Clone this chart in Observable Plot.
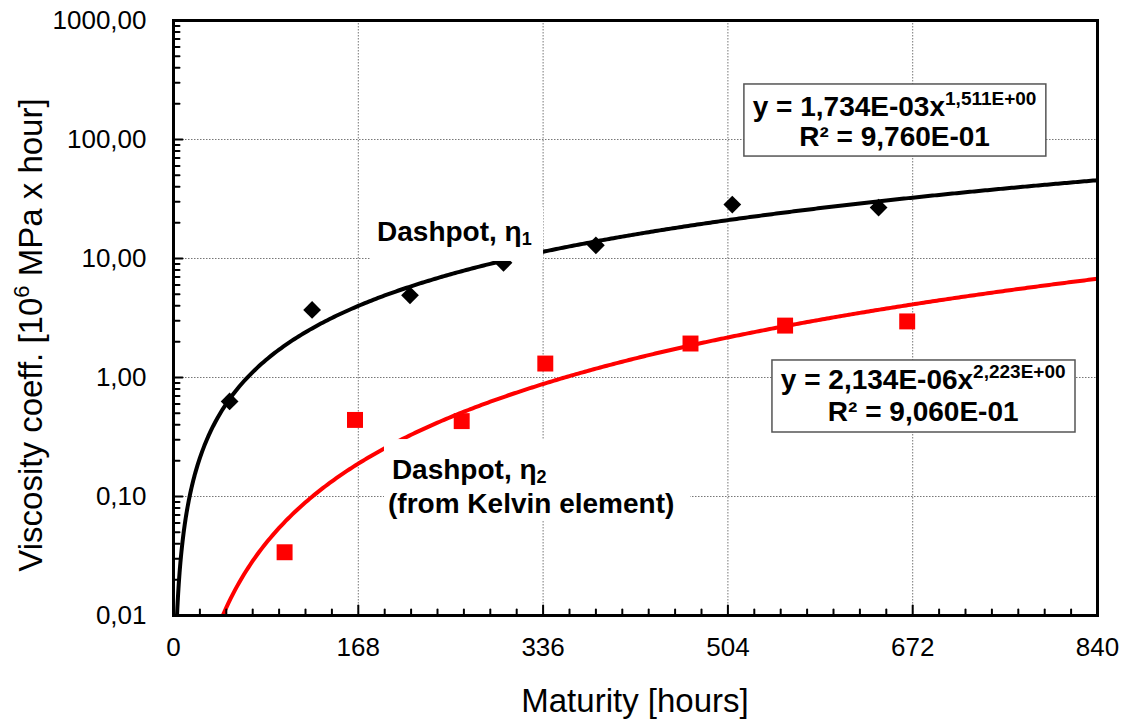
<!DOCTYPE html>
<html><head><meta charset="utf-8">
<script src="https://cdn.jsdelivr.net/npm/d3@7"></script>
<script src="https://cdn.jsdelivr.net/npm/@observablehq/plot@0.6"></script>
<style>
body{margin:0;background:#fff}
svg{font-family:"Liberation Sans",Arial,sans-serif}
</style>
</head><body><div id="chart"></div>
<script>
// Measured points: Dashpot eta1 (black diamonds)
const eta1Hours  = [51, 126, 215, 300, 384, 508, 641];
const eta1Values = [0.63, 3.7, 4.9, 9.2, 12.9, 28.4, 26.8];
// Measured points: Dashpot eta2 (red squares)
const eta2Hours  = [101, 165, 262, 338, 470, 556, 667];
const eta2Values = [0.034, 0.44, 0.43, 1.31, 1.93, 2.73, 2.96];
// Power trendlines y = a * x^b as printed on the chart
const fitA = [1.734e-3, 2.134e-6];
const fitB = [1.511, 2.223];
const fitColors = ["black", "#ff0000"];
// Axis ticks
const xTicks = [0, 168, 336, 504, 672, 840];
const xMinorStep = 24;
const yTicks = [0.01, 0.1, 1, 10, 100, 1000];
// Annotation texts
const eqMain = ["y = 1,734E-03x", "y = 2,134E-06x"];
const eqSup = ["1,511E+00", "2,223E+00"];
const eqR2 = ["R² = 9,760E-01", "R² = 9,060E-01"];
// annotation anchors (data units)
const eqCenterX = [656, 682];
const eqLine1Y = [156, 0.79];
const eqLine2Y = [87, 0.425];
const eqBoxX = [[519, 793.5], [544.5, 820]];
const eqBoxY = [[290, 71.9], [1.39, 0.345]];
const lblBoxX = [[179, 336.4], [191.8, 470]];
const lblBoxY = [[26.8, 9.44], [0.301, 0.0616]];
const lblX = [185.5, 199, 195.5];
const lblY = [13.9, 0.139, 0.0715];

const pts1 = eta1Hours.map((h, i) => ({h, v: eta1Values[i]}));
const pts2 = eta2Hours.map((h, i) => ({h, v: eta2Values[i]}));
const hoursGrid = d3.range(0, 20, 0.25).concat(d3.range(20, 841, 2));
const curves = fitA.map((a, k) => hoursGrid.map(h => ({h, v: a * Math.pow(h, fitB[k]), k})).filter(d => d.v >= 0.005));

const xMinor = d3.range(0, 841, xMinorStep).filter(d => !xTicks.includes(d));
const yMinor = [];
yTicks.slice(0, -1).forEach(d => { for (let m = 2; m <= 9; m++) yMinor.push(d * m); });

const eqBoxes = eqBoxX.map((x, i) => ({x1: x[0], x2: x[1], y1: eqBoxY[i][0], y2: eqBoxY[i][1]}));
const lblBoxes = lblBoxX.map((x, i) => ({x1: x[0], x2: x[1], y1: lblBoxY[i][0], y2: lblBoxY[i][1]}));

// simple line shape for inward tick marks
const tickShape = {draw(context, l) { context.moveTo(0, 0); context.lineTo(0, -l); }};
const xTickData = xMinor.map(h => ({h, len: 6})).concat(xTicks.slice(1, -1).map(h => ({h, len: 10})));
const yTickData = yMinor.map(v => ({v, len: 6})).concat(yTicks.slice(1, -1).map(v => ({v, len: 9})));

const chart = Plot.plot({
  width: 1125, height: 721,
  marginLeft: 173, marginRight: 28, marginTop: 20, marginBottom: 106,
  style: {fontFamily: '"Liberation Sans", Arial, sans-serif', background: "white"},
  x: {type: "linear", domain: [0, 840]},
  y: {type: "log", domain: [0.01, 1000]},
  length: {type: "identity"},
  marks: [
    Plot.gridX({ticks: xTicks.slice(1, -1), stroke: "#777", strokeOpacity: 1, strokeWidth: 1, strokeDasharray: "1.5,1.5"}),
    Plot.gridY({ticks: yTicks.slice(1, -1), stroke: "#777", strokeOpacity: 1, strokeWidth: 1, strokeDasharray: "1.5,1.5"}),
    ...curves.map((c, k) => Plot.line(c, {x: "h", y: "v", stroke: fitColors[k], strokeWidth: 4, clip: true})),
    Plot.dot(pts1, {x: "h", y: "v", symbol: "diamond2", r: 8, fill: "black", stroke: null}),
    Plot.dot(pts2, {x: "h", y: "v", symbol: "square", r: 9, fill: "#ff0000", stroke: null}),
    Plot.rect(lblBoxes, {x1: "x1", x2: "x2", y1: "y1", y2: "y2", fill: "white"}),
    Plot.rect(eqBoxes, {x1: "x1", x2: "x2", y1: "y1", y2: "y2", fill: "white", stroke: "#555", strokeWidth: 1.5}),
    Plot.vector(xTickData, {x: "h", y: () => 0.01, length: "len", rotate: 0, anchor: "start", shape: tickShape, stroke: "black", strokeWidth: 2}),
    Plot.vector(yTickData, {x: () => 0, y: "v", length: "len", rotate: 90, anchor: "start", shape: tickShape, stroke: "black", strokeWidth: 2}),
    Plot.frame({stroke: "black", strokeWidth: 3}),
    Plot.axisX({ticks: xTicks, tickSize: 0, tickPadding: 22, fontSize: 26, tickFormat: d => String(d), label: null}),
    Plot.axisY({ticks: yTicks, tickSize: 0, tickPadding: 27, fontSize: 26, tickFormat: d => d.toFixed(2).replace(".", ","), label: null})
  ]
});
document.getElementById("chart").appendChild(chart);

const sx = chart.scale("x"), sy = chart.scale("y");
const svg = d3.select(chart);
const g = svg.append("g").attr("font-family", '"Liberation Sans", Arial, sans-serif')
  .attr("fill", "black").attr("text-anchor", "start");

// Trendline equations
eqMain.forEach((m, i) => {
  const cx = sx.apply(eqCenterX[i]);
  const t1 = g.append("text").attr("x", cx).attr("y", sy.apply(eqLine1Y[i]))
    .attr("text-anchor", "middle").attr("font-size", 28).attr("font-weight", "bold");
  t1.append("tspan").text(m);
  t1.append("tspan").attr("font-size", 19).attr("dy", -11).text(eqSup[i]);
  g.append("text").attr("x", cx).attr("y", sy.apply(eqLine2Y[i]))
    .attr("text-anchor", "middle").attr("font-size", 28).attr("font-weight", "bold").text(eqR2[i]);
});

// Series labels
function etaLabel(x, y, sub) {
  const t = g.append("text").attr("x", sx.apply(x)).attr("y", sy.apply(y))
    .attr("text-anchor", "start").attr("font-size", 28).attr("font-weight", "bold");
  t.append("tspan").text("Dashpot, η");
  t.append("tspan").attr("font-size", 18).attr("dy", 4).text(sub);
}
etaLabel(lblX[0], lblY[0], "1");
etaLabel(lblX[1], lblY[1], "2");
g.append("text").attr("x", sx.apply(lblX[2])).attr("y", sy.apply(lblY[2]))
  .attr("text-anchor", "start").attr("font-size", 28).attr("font-weight", "bold").text("(from Kelvin element)");

// Axis titles
g.append("text").attr("x", (sx.apply(0) + sx.apply(840)) / 2).attr("y", 712)
  .attr("text-anchor", "middle").attr("font-size", 33).text("Maturity [hours]");
const yt = g.append("text").attr("transform", `translate(42,335) rotate(-90)`)
  .attr("text-anchor", "middle").attr("font-size", 33);
yt.append("tspan").text("Viscosity coeff. [10");
yt.append("tspan").attr("font-size", 22).attr("dy", -13).text("6");
yt.append("tspan").attr("dy", 13).text(" MPa x hour]");
</script>
</body></html>
